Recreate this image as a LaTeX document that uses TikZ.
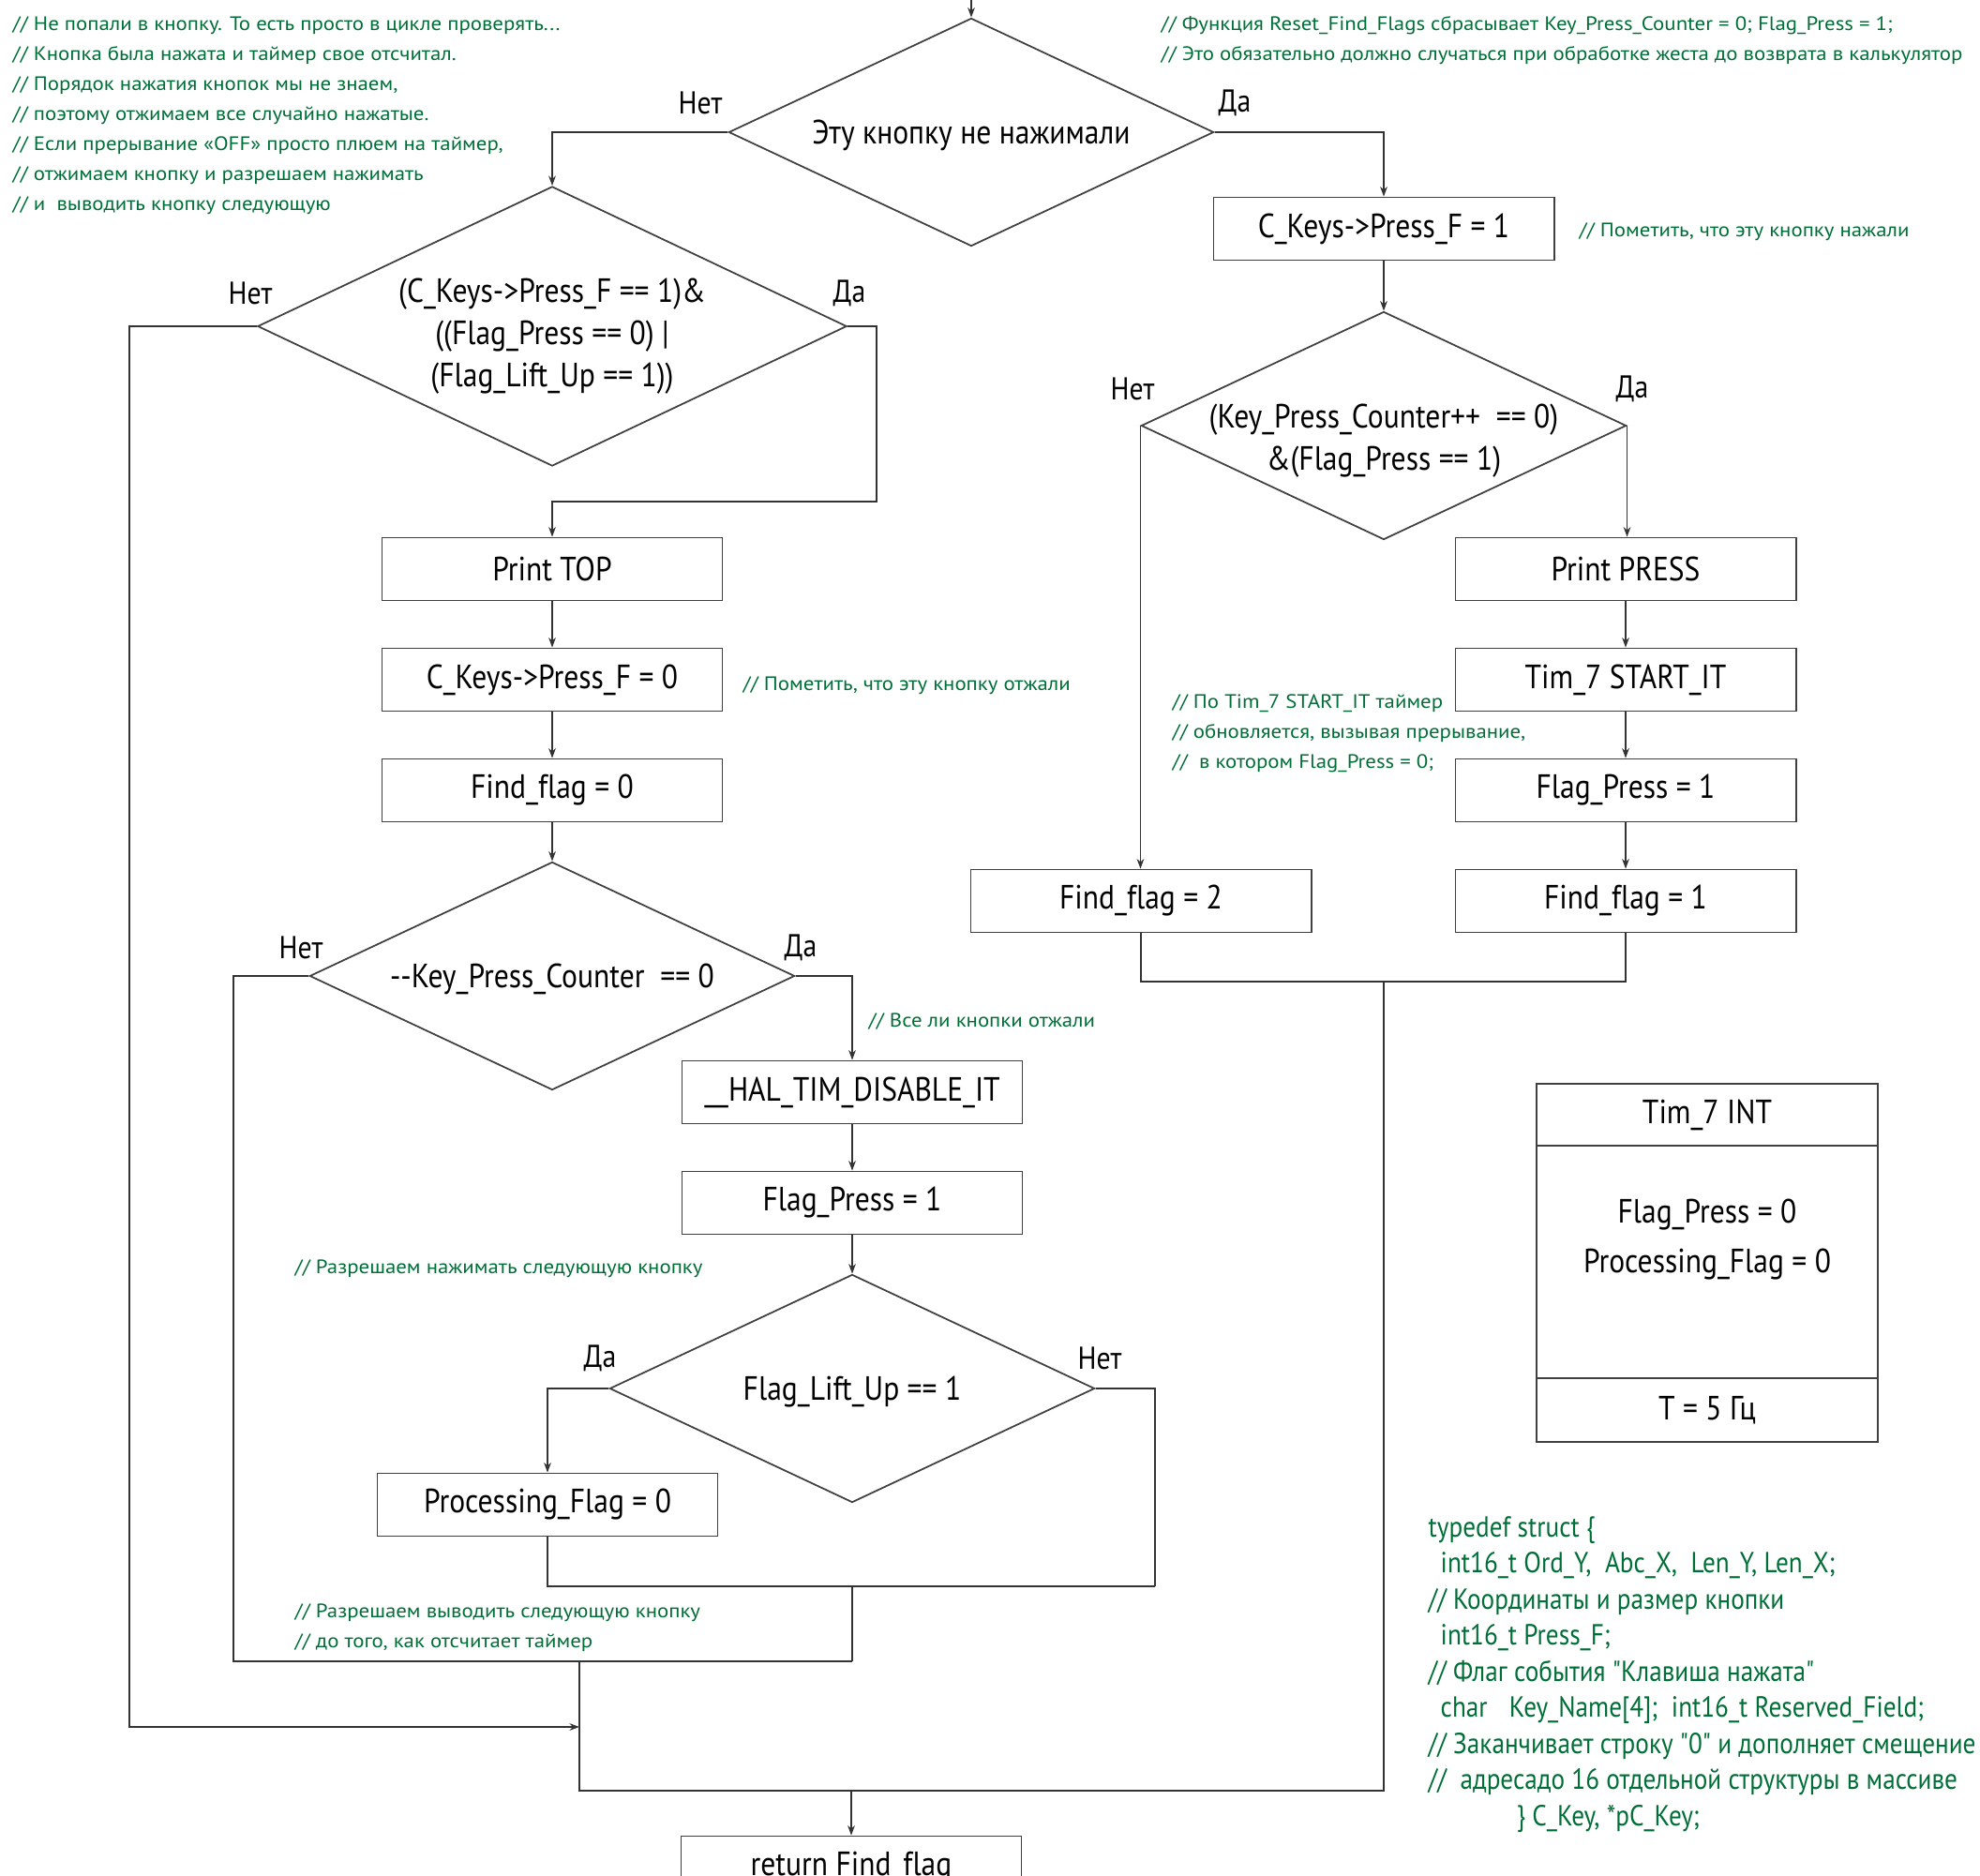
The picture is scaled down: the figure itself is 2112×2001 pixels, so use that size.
\documentclass[tikz,border=0pt]{standalone}
\usepackage{fontspec}
\setmainfont[FakeStretch=0.88,Ligatures={TeXOff,CommonOff}]{PT Sans}
\newfontfamily\cmtfont[FakeStretch=1.1,Ligatures={TeXOff,CommonOff}]{PT Sans}
\usetikzlibrary{arrows.meta,shapes.geometric,positioning}
\definecolor{cmtgreen}{RGB}{0,110,55}
\newcommand{\dtext}[2][0pt]{\raisebox{-#1}[\height][\depth]{\makebox[0pt]{\begin{tabular}{@{}c@{}}#2\end{tabular}}}}
\tikzset{
    blockR/.style={draw=black!75, line width=0.5pt, rectangle, minimum width=3.63cm, minimum height=0.67cm, inner sep=0pt, font=\fontsize{10.2}{12.8}\selectfont},
    blockD/.style={draw=black!75, line width=0.5pt, diamond, minimum width=5.17cm, minimum height=2.43cm, inner sep=0pt, font=\fontsize{10.2}{12.8}\selectfont},
    yesno/.style={inner sep=0pt, font=\fontsize{9.6}{11}\selectfont},
    noteC/.style={text=cmtgreen, align=left, anchor=west, inner sep=0pt, font=\cmtfont\fontsize{5.9}{9.1}\selectfont},
    lineA/.style={draw=black!80, line width=0.35pt, -{Stealth[length=3pt,width=2.2pt]}},
    lineN/.style={draw=black!80, line width=0.35pt}
}
\begin{document}
\begin{tikzpicture}[x=0.01cm, y=-0.01cm]
    \useasboundingbox (0,0) rectangle (2112,2001);
    \clip (0,0) rectangle (2112,2001);
    % right branch
    \coordinate (c0) at (1036,0);
    \node[blockD] (d1) at (1036,141) {\dtext[1.1pt]{Эту кнопку не нажимали}};
    \node[blockR] (b1) at (1476,244) {C\_Keys->Press\_F = 1};
    \node[blockD] (d3) at (1476,454) {\dtext[4.5pt]{(Key\_Press\_Counter++ \ == 0)\\\&(Flag\_Press == 1)}};
    \node[blockR] (b2) at (1734,607) {Print PRESS};
    \node[blockR] (b3) at (1734,725) {Tim\_7 START\_IT};
    \node[blockR] (b4) at (1734,843) {Flag\_Press = 1};
    \node[blockR] (b5) at (1734,961) {Find\_flag = 1};
    \node[blockR] (b6) at (1217,961) {Find\_flag = 2};
    % left branch
    \node[blockD, minimum width=6.28cm, minimum height=2.98cm] (d2) at (589,348) {\dtext[3.1pt]{(C\_Keys->Press\_F == 1)\&\\((Flag\_Press == 0) |\\(Flag\_Lift\_Up == 1))}};
    \node[blockR] (b7) at (589,607) {Print TOP};
    \node[blockR] (b8) at (589,725) {C\_Keys->Press\_F = 0};
    \node[blockR] (b9) at (589,843) {Find\_flag = 0};
    \node[blockD] (d4) at (589,1041) {\dtext[0.9pt]{-{}-Key\_Press\_Counter \ == 0}};
    \node[blockR] (b10) at (909,1165) {\_\_HAL\_TIM\_DISABLE\_IT};
    \node[blockR] (b11) at (909,1283) {Flag\_Press = 1};
    \node[blockD] (d5) at (909,1481) {\dtext[1.1pt]{Flag\_Lift\_Up == 1}};
    \node[blockR] (b12) at (584,1605) {Processing\_Flag = 0};
    \node[blockR] (b13) at (908,1992) {return Find\_flag};
    % timer block
    \node[blockR, minimum width=3.64cm, minimum height=0.66cm] (t1) at (1821,1189) {Tim\_7 INT};
    \node[blockR, minimum width=3.64cm, minimum height=2.475cm, font=\fontsize{10.2}{15}\selectfont] (t2) at (1821,1346) {\dtext[-7.3pt]{Flag\_Press = 0\\Processing\_Flag = 0}};
    \node[blockR, minimum width=3.64cm, minimum height=0.685cm] (t3) at (1821,1504) {T = 5 Гц};
    % yes / no
    \node[yesno] (y1) at (747,110) {Нет};
    \node[yesno] (y2) at (1317,110) {Да};
    \node[yesno] (y3) at (267,313) {Нет};
    \node[yesno] (y4) at (906,313) {Да};
    \node[yesno] (y5) at (1208,415) {Нет};
    \node[yesno] (y6) at (1741,415) {Да};
    \node[yesno] (y7) at (321,1011) {Нет};
    \node[yesno] (y8) at (854,1011) {Да};
    \node[yesno] (y9) at (640,1449) {Да};
    \node[yesno] (y10) at (1173,1449) {Нет};
    % connectors
    \draw[lineA] (c0) -- (d1.north);
    \draw[lineA] (d1.west) -| (d2.north);
    \draw[lineA] (d1.east) -| (b1.north);
    \draw[lineA] (b1.south) -- (d3.north);
    \draw[lineA] (d3.east) -- (d3.east |- b2.north);
    \draw[lineA] (d3.west) -- (d3.west |- b6.north);
    \draw[lineA] (b2) -- (b3);
    \draw[lineA] (b3) -- (b4);
    \draw[lineA] (b4) -- (b5);
    \coordinate (c1) at (1476,1047);
    \draw[lineN] (b6.south) |- (c1) -| (b5.south);
    \coordinate (c2) at (935,535);
    \draw[lineA] (d2.east) -| (c2) -| (b7.north);
    \coordinate (c3) at (138,1842);
    \coordinate (c4) at (618,1842);
    \draw[lineA] (d2.west) -| (c3) -- (c4);
    \draw[lineA] (b7) -- (b8);
    \draw[lineA] (b8) -- (b9);
    \draw[lineA] (b9.south) -- (d4.north);
    \draw[lineA] (d4.east) -| (b10.north);
    \draw[lineA] (b10) -- (b11);
    \draw[lineA] (b11.south) -- (d5.north);
    \draw[lineA] (d5.west) -| (b12.north);
    \coordinate (c5) at (249,1772);
    \coordinate (c6) at (909,1772);
    \draw[lineN] (d4.west) -| (c5) -- (c6);
    \coordinate (c7) at (1232,1692);
    \coordinate (c8) at (909,1692);
    \draw[lineN] (b12.south) |- (c7);
    \draw[lineN] (d5.east) -| (c7);
    \draw[lineN] (c8) -- (c6);
    \coordinate (c9) at (618,1910);
    \coordinate (c10) at (618,1772);
    \draw[lineN] (c1) |- (c9) -- (c10);
    \coordinate (c11) at (908,1910);
    \draw[lineA] (c11) -- (b13.north);
    % comments
    \node[noteC] (m1) at (13,123) {// Не попали в кнопку. То есть просто в цикле проверять...\\// Кнопка была нажата и таймер свое отсчитал.\\// Порядок нажатия кнопок мы не знаем,\\// поэтому отжимаем все случайно нажатые.\\// Если прерывание «OFF» просто плюем на таймер,\\// отжимаем кнопку и разрешаем нажимать\\// и \ выводить кнопку следующую};
    \node[noteC] (m2) at (1238,43) {// Функция Reset\_Find\_Flags сбрасывает Key\_Press\_Counter = 0; Flag\_Press = 1;\\// Это обязательно должно случаться при обработке жеста до возврата в калькулятор};
    \node[noteC] (m3) at (1684,247) {// Пометить, что эту кнопку нажали};
    \node[noteC] (m4) at (792,731) {// Пометить, что эту кнопку отжали};
    \node[noteC] (m5) at (1250,782) {// По Tim\_7 START\_IT таймер\\// обновляется, вызывая прерывание,\\// \ в котором Flag\_Press = 0;};
    \node[noteC] (m6) at (926,1090) {// Все ли кнопки отжали};
    \node[noteC] (m7) at (314,1353) {// Разрешаем нажимать следующую кнопку};
    \node[noteC] (m8) at (314,1736) {// Разрешаем выводить следующую кнопку\\// до того, как отсчитает таймер};
    \node[noteC, font=\fontsize{8.8}{10.95}\selectfont] (s1) at (1523,1786) {typedef struct \{\\\hspace*{0.13cm}int16\_t Ord\_Y, \ Abc\_X, \ Len\_Y, Len\_X;\\// Координаты и размер кнопки\\\hspace*{0.13cm}int16\_t Press\_F;\\// Флаг события "Клавиша нажата"\\\hspace*{0.13cm}char\hspace{0.16cm} Key\_Name[4]; \ int16\_t Reserved\_Field;\\// Заканчивает строку "0" и дополняет смещение\\// \ адресадо 16 отдельной структуры в массиве\\\hspace*{0.94cm}\} C\_Key, *pC\_Key;};
\end{tikzpicture}
\end{document}
